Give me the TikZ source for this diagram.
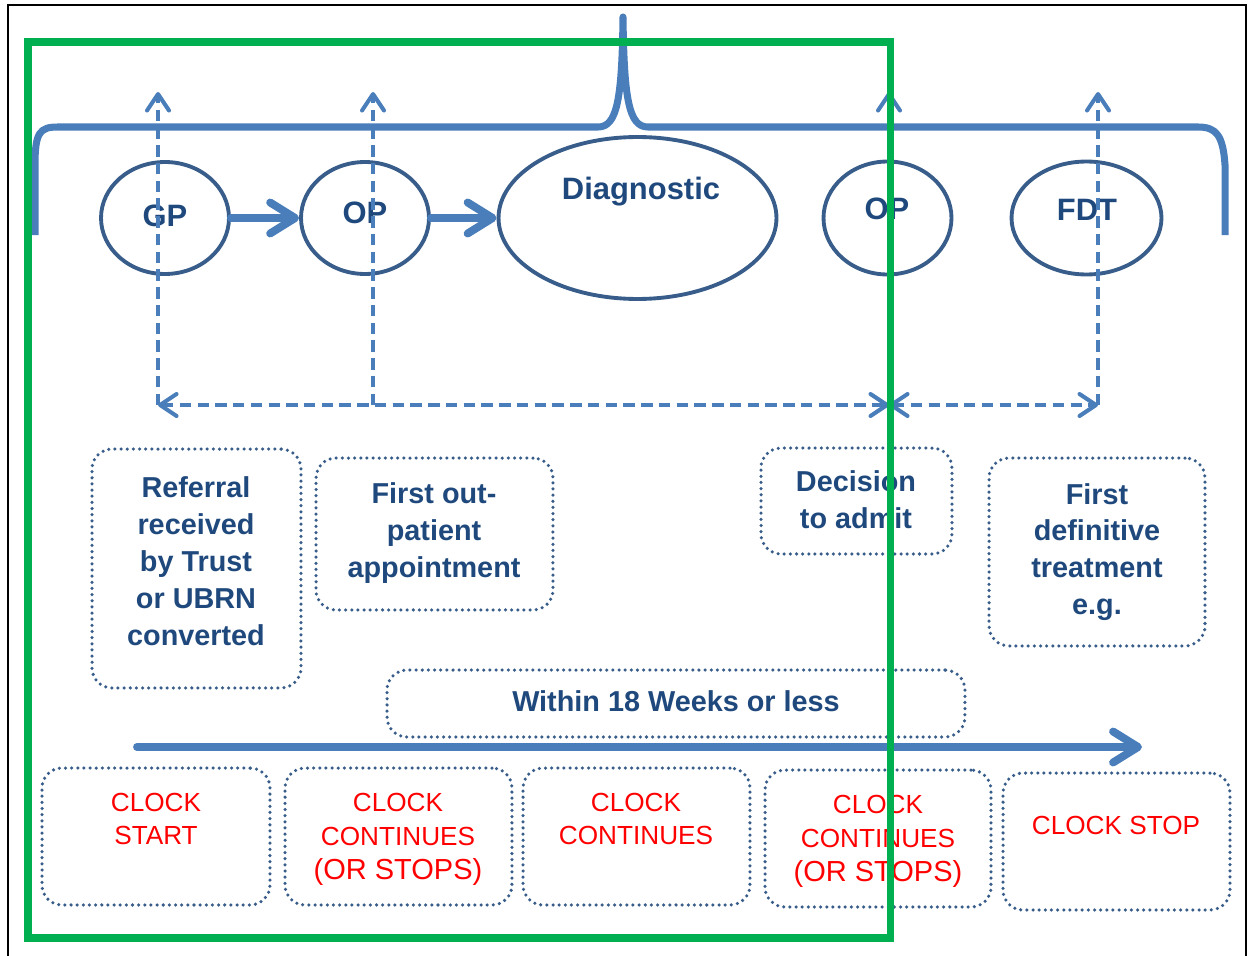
\documentclass[tikz,border=0pt]{standalone}
\usepackage{fontspec}
\setmainfont{Liberation Sans}
\usetikzlibrary{arrows.meta,shapes.geometric}

\definecolor{lineblue}{RGB}{74,126,187}
\definecolor{ringblue}{RGB}{56,93,138}
\definecolor{navy}{RGB}{31,73,125}
\definecolor{framegreen}{RGB}{0,176,80}

\tikzset{
  thin tip/.tip={Straight Barb[length=0.33cm,width=0.44cm,round]},
  thick tip/.tip={Straight Barb[length=0.5cm,width=0.62cm,round]},
  stage/.style={ellipse, draw=ringblue, line width=2.2pt, inner sep=0pt},
  stagetext/.style={text=navy, font=\bfseries\fontsize{17.6}{21}\selectfont},
  infobox/.style={draw=ringblue, line width=2pt, dash pattern=on 0pt off 3.5pt,
    line cap=round, rounded corners=0.4cm, inner sep=0pt},
  infotext/.style={text=navy, font=\bfseries\fontsize{16.4}{21}\selectfont, align=center},
  clocktext/.style={text=red, font=\fontsize{14.9}{19.3}\selectfont, align=center},
  link/.style={draw=lineblue, line width=2.3pt, dash pattern=on 6.5pt off 3.6pt},
  flow/.style={draw=lineblue, line width=4.5pt, line cap=round, -thick tip},
  brace/.style={draw=lineblue, line width=4pt, line join=round, line cap=butt},
}

\newcommand{\bigline}[1]{{\fontsize{16.5}{20}\selectfont #1}}

\begin{document}
\begin{tikzpicture}[x=0.02cm,y=-0.02cm]
  \useasboundingbox (0,0) rectangle (1250,956);

  % outer frame (open at the bottom)
  \draw[black, line width=1.3pt] (8,956) -- (8,5) -- (1246,5) -- (1246,956);

  % curly bracket over the pathway
  \draw[brace] (35,235) -- (35,165) .. controls (35,132) and (40,127) .. (58,127)
    -- (598,127) .. controls (617,127) and (622,100) .. (623,17)
    .. controls (624,100) and (629,127) .. (648,127)
    -- (1198,127) .. controls (1216,127) and (1223,135) .. (1225,165) -- (1225,235);

  % pathway stages
  \node[stage, minimum width=2.56cm, minimum height=2.24cm] (gp)   at (165,218) {};
  \node[stage, minimum width=2.56cm, minimum height=2.24cm] (opa)  at (365,218) {};
  \node[stage, minimum width=5.56cm, minimum height=3.24cm] (diag) at (637.5,218) {};
  \node[stage, minimum width=2.56cm, minimum height=2.26cm] (opb)  at (887.5,218) {};
  \node[stage, minimum width=3.0cm,  minimum height=2.26cm] (fdt)  at (1086.5,218) {};

  \node[stagetext] (gpt)   at (165,216) {GP};
  \node[stagetext] (opat)  at (365,213) {OP};
  \node[stagetext] (diagt) at (641,192) {Diagnostic};
  \node[stagetext] (opbt)  at (887,209) {OP};
  \node[stagetext] (fdtt)  at (1087,210) {FDT};

  \draw[flow] (gp.east) -- (opa.west);
  \draw[flow] (opa.east) -- (diag.west);

  % milestone markers
  \coordinate (m1b) at (158,405);  \coordinate (m1t) at (158,92);
  \coordinate (m2b) at (373,405);  \coordinate (m2t) at (373,92);
  \coordinate (m3b) at (889,405);  \coordinate (m3t) at (889,92);
  \coordinate (m4b) at (1098,405); \coordinate (m4t) at (1098,92);

  \draw[link, -thin tip] (m1b) -- (m1t);
  \draw[link, -thin tip] (m2b) -- (m2t);
  \draw[link, -thin tip] (m3b) -- (m3t);
  \draw[link, -thin tip] (m4b) -- (m4t);
  \draw[link, thin tip-thin tip] (m1b) -- (m3b);
  \draw[link, thin tip-thin tip] (m3b) -- (m4b);

  % milestone descriptions
  \node[infobox, minimum width=4.18cm, minimum height=4.78cm] (ref) at (196.5,568.5) {};
  \node[infobox, minimum width=4.74cm, minimum height=3.04cm] (fop) at (434.5,534) {};
  \node[infobox, minimum width=3.82cm, minimum height=2.12cm] (dta) at (856.5,501) {};
  \node[infobox, minimum width=4.32cm, minimum height=3.76cm] (fdb) at (1097,552) {};
  \node[infobox, minimum width=11.56cm, minimum height=1.34cm] (wks) at (676,703.5) {};

  \node[infotext] (reft) at (196,561) {Referral\\received\\by Trust\\or UBRN\\converted};
  \node[infotext] (fopt) at (434,533) {First out-\\patient\\appointment};
  \node[infotext] (dtat) at (856,500) {Decision\\to admit};
  \node[infotext] (fdbt) at (1097,552) {First\\definitive\\treatment\\e.g.};
  \node[infotext] (wkst) at (676,701) {Within 18 Weeks or less};

  % time line
  \coordinate (tl) at (137,747);
  \coordinate (tr) at (1142,747);
  \draw[flow] (tl) -- (tr);

  % clock status
  \node[infobox, minimum width=4.56cm, minimum height=2.74cm] (ck1) at (156,836.5) {};
  \node[infobox, minimum width=4.54cm, minimum height=2.74cm] (ck2) at (398.5,836.5) {};
  \node[infobox, minimum width=4.54cm, minimum height=2.74cm] (ck3) at (636.5,836.5) {};
  \node[infobox, minimum width=4.52cm, minimum height=2.74cm] (ck4) at (878,838.5) {};
  \node[infobox, minimum width=4.54cm, minimum height=2.74cm] (ck5) at (1116.5,841.5) {};

  \node[clocktext] (ck1t) at (156,819) {CLOCK\\START};
  \node[clocktext] (ck2t) at (398,839) {CLOCK\\CONTINUES\\\bigline{(OR STOPS)}};
  \node[clocktext] (ck3t) at (636,819) {CLOCK\\CONTINUES};
  \node[clocktext] (ck4t) at (878,841) {CLOCK\\CONTINUES\\\bigline{(OR STOPS)}};
  \node[clocktext] (ck5t) at (1116,825) {CLOCK STOP};

  % highlighted span
  \draw[framegreen, line width=4pt] (28,42) rectangle (890.5,938);
\end{tikzpicture}
\end{document}
